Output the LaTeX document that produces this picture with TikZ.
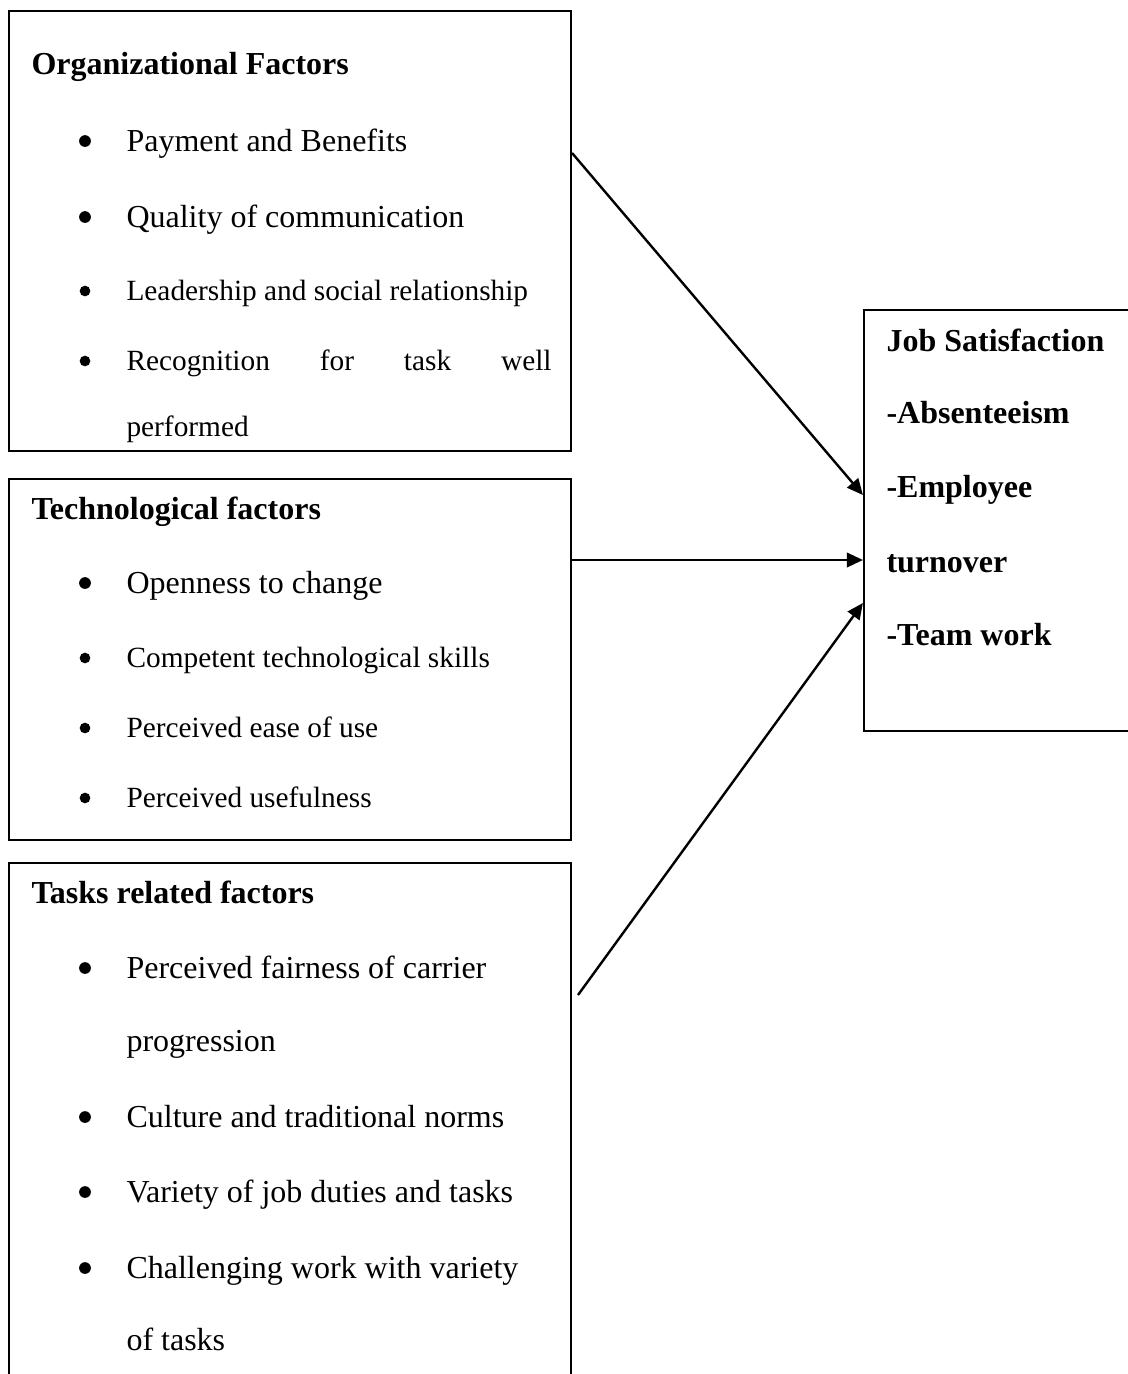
\documentclass[tikz,border=0pt]{standalone}
\usepackage{fontspec}
\setmainfont{Liberation Serif}
\usetikzlibrary{arrows.meta,fit}
\begin{document}
\begin{tikzpicture}[x=0.375pt,y=-0.375pt,
  frame/.style={draw, line width=0.8pt, inner sep=0pt},
  lbl/.style={anchor=base west, inner sep=0pt, font=\fontsize{12pt}{14pt}\selectfont},
  sml/.style={lbl, font=\fontsize{11pt}{13pt}\selectfont},
  hd/.style={lbl, font=\fontsize{12pt}{14pt}\selectfont\bfseries},
  arr/.style={line width=0.9pt, -{Triangle[length=6pt,width=5.4pt]}}]
\useasboundingbox (0,0) rectangle (1128,1374);

% ---------- boxes ----------
\node[frame, fit={(9,11) (571,451)}]    (org)  {};
\node[frame, fit={(9,479) (571,840)}]   (tech) {};
\node[frame, fit={(9,863) (571,1420)}]  (task) {};
\node[frame, fit={(864,310) (1160,731)}] (js)  {};

% ---------- organizational factors ----------
\node[hd]  (orgT) at (31,74)  {Organizational Factors};
\node[lbl] (o1)   at (126,151) {Payment and Benefits};
\node[lbl] (o2)   at (126,227) {Quality of communication};
\node[sml] (o3)   at (126,300) {Leadership and social relationship};
\node[sml] (o4)   at (126,370) {\makebox[159.4pt][s]{Recognition for task well}};
\node[sml] (o4b)  at (126,436) {performed};
\fill (85,141) circle[radius=2.2pt];
\fill (85,217) circle[radius=2.2pt];
\fill (85,291) circle[radius=2pt];
\fill (85,361) circle[radius=2pt];

% ---------- technological factors ----------
\node[hd]  (techT) at (31,519) {Technological factors};
\node[lbl] (t1)    at (126,593) {Openness to change};
\node[sml] (t2)    at (126,667) {Competent technological skills};
\node[sml] (t3)    at (126,737) {Perceived ease of use};
\node[sml] (t4)    at (126,807) {Perceived usefulness};
\fill (85,583) circle[radius=2.2pt];
\fill (85,658) circle[radius=2pt];
\fill (85,728) circle[radius=2pt];
\fill (85,798) circle[radius=2pt];

% ---------- task related factors ----------
\node[hd]  (taskT) at (31,903)  {Tasks related factors};
\node[lbl] (k1)    at (126,978)  {Perceived fairness of carrier};
\node[lbl] (k1b)   at (126,1051) {progression};
\node[lbl] (k2)    at (126,1127) {Culture and traditional norms};
\node[lbl] (k3)    at (126,1202) {Variety of job duties and tasks};
\node[lbl] (k4)    at (126,1278) {Challenging work with variety};
\node[lbl] (k4b)   at (126,1350) {of tasks};
\fill (85,968)  circle[radius=2.2pt];
\fill (85,1117) circle[radius=2.2pt];
\fill (85,1192) circle[radius=2.2pt];
\fill (85,1268) circle[radius=2.2pt];

% ---------- job satisfaction ----------
\node[hd] (jsT) at (886,351) {Job Satisfaction};
\node[hd] (j1)  at (886,423) {-Absenteeism};
\node[hd] (j2)  at (886,497) {-Employee};
\node[hd] (j2b) at (886,572) {turnover};
\node[hd] (j3)  at (886,645) {-Team work};

% ---------- connectors ----------
\coordinate (ya) at (0,153);
\coordinate (yb) at (0,495);
\coordinate (yc) at (0,560);
\coordinate (yd) at (0,603);
\coordinate (taskOut) at (578,995);
\draw[arr] (org.east |- ya)  -- (js.west |- yb);
\draw[arr] (tech.east |- yc) -- (js.west |- yc);
\draw[arr] (taskOut)         -- (js.west |- yd);
\end{tikzpicture}
\end{document}
